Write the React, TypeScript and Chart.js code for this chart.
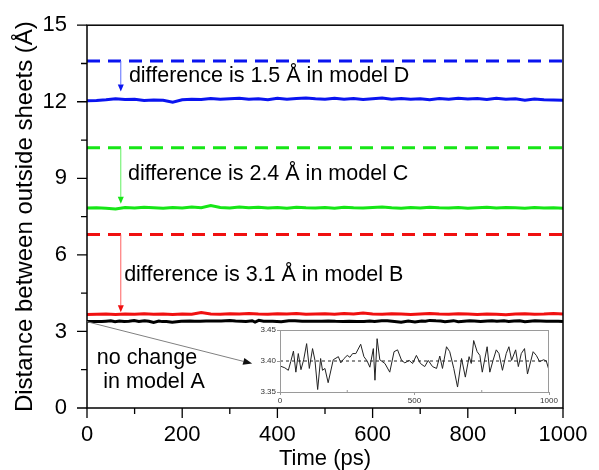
import React, { useEffect, useRef } from "react";
import { Chart, registerables } from "chart.js";

Chart.register(...registerables);

const FONT = "Arial, 'Liberation Sans', Helvetica, sans-serif";

// ---- data ----
const sampleTimes = [
  0, 20, 40, 60, 80, 100, 120, 140, 160, 180, 200, 220, 240, 260, 280, 300, 320, 340, 360, 380,
  400, 420, 440, 460, 480, 500, 520, 540, 560, 580, 600, 620, 640, 660, 680, 700, 720, 740, 760,
  780, 800, 820, 840, 860, 880, 900, 920, 940, 960, 980, 1000,
];
const modelD = [
  12.04, 12.05, 12.08, 12.12, 12.09, 12.1, 12.05, 12.07, 12.06, 11.98, 12.08, 12.1, 12.09, 12.13,
  12.1, 12.12, 12.14, 12.1, 12.12, 12.08, 12.14, 12.1, 12.13, 12.15, 12.12, 12.1, 12.14, 12.1,
  12.13, 12.09, 12.12, 12.15, 12.1, 12.13, 12.1, 12.12, 12.08, 12.13, 12.1, 12.14, 12.11, 12.13,
  12.09, 12.14, 12.1, 12.12, 12.06, 12.11, 12.08, 12.07, 12.06,
];
const modelC = [
  7.84, 7.85, 7.83, 7.8, 7.86, 7.84, 7.87, 7.85, 7.83, 7.86, 7.84, 7.88, 7.85, 7.93, 7.86, 7.84,
  7.88, 7.85, 7.87, 7.84, 7.86, 7.83, 7.87, 7.85, 7.84, 7.86, 7.83, 7.87, 7.85, 7.84, 7.86, 7.88,
  7.85, 7.83, 7.86, 7.84, 7.87, 7.85, 7.84, 7.86, 7.83, 7.85, 7.87, 7.84, 7.86, 7.85, 7.83, 7.86,
  7.84, 7.85, 7.83,
];
const modelB = [
  3.66, 3.67, 3.68, 3.66, 3.68, 3.67, 3.69, 3.67, 3.68, 3.66, 3.68, 3.67, 3.74, 3.68, 3.67, 3.69,
  3.68, 3.7, 3.68, 3.67, 3.69, 3.68, 3.7, 3.67, 3.68, 3.69, 3.67, 3.7, 3.68, 3.72, 3.68, 3.67,
  3.69, 3.68, 3.66, 3.68, 3.7, 3.68, 3.67, 3.69, 3.68, 3.66, 3.68, 3.67, 3.65, 3.68, 3.69, 3.67,
  3.68, 3.7, 3.68,
];
// initial (dashed) spacing for models D, C, B
const initialSpacing = [13.6, 10.2, 6.8];
const finalArrowTips = [12.4, 8.0, 3.75];

const insetTimes = [
  0, 18, 31, 40, 50, 59, 68, 78, 88, 99, 109, 121, 130, 140, 151, 158, 167, 179, 198, 217, 226,
  238, 250, 260, 270, 282, 300, 312, 324, 334, 347, 353, 361, 371, 390, 408, 424, 437, 452, 464,
  480, 493, 507, 522, 538, 551, 567, 582, 594, 604, 619, 631, 646, 660, 675, 689, 703, 711, 720,
  733, 743, 752, 770, 780, 792, 804, 814, 827, 841, 851, 861, 876, 886, 897, 909, 920, 941, 953,
  965, 980, 990, 1000,
];
const modelA = [
  3.392, 3.389, 3.385, 3.399, 3.416, 3.382, 3.412, 3.386, 3.402, 3.428, 3.388, 3.42, 3.401, 3.354,
  3.404, 3.385, 3.388, 3.365, 3.402, 3.407, 3.397, 3.404, 3.409, 3.406, 3.412, 3.412, 3.427, 3.407,
  3.4, 3.39, 3.42, 3.369, 3.436, 3.402, 3.396, 3.382, 3.415, 3.418, 3.401, 3.397, 3.401, 3.396,
  3.409, 3.396, 3.391, 3.401, 3.391, 3.388, 3.408, 3.388, 3.423, 3.415, 3.388, 3.358, 3.404, 3.374,
  3.407, 3.396, 3.433, 3.415, 3.409, 3.382, 3.423, 3.382, 3.401, 3.418, 3.412, 3.385, 3.412, 3.423,
  3.401, 3.418, 3.391, 3.412, 3.42, 3.379, 3.415, 3.409, 3.399, 3.402, 3.4, 3.385,
];
const insetReference = 3.4;
const insetYTicks = [3.35, 3.4, 3.45];
const insetXTicks = [0, 500, 1000];

const xAxisTitle = "Time (ps)";
const yAxisTitle = "Distance between outside sheets (Å)";
const differenceLabels = [
  "difference is 1.5 Å in model D",
  "difference is 2.4 Å in model C",
  "difference is 3.1 Å in model B",
];
const noChangeLabels = ["no change", "in model A"];

const BLUE = "#0a14f0";
const GREEN = "#16e616";
const RED = "#f01010";
const ARROW_COLORS = ["#5a6aff", "#60f060", "#ff6060"];
const LINE_COLORS = [BLUE, GREEN, RED];

function drawArrow(
  ctx: CanvasRenderingContext2D,
  x1: number, y1: number, x2: number, y2: number,
  color: string, headColor: string, width: number, headLen: number, headW: number
) {
  const ang = Math.atan2(y2 - y1, x2 - x1);
  const bx = x2 - headLen * Math.cos(ang);
  const by = y2 - headLen * Math.sin(ang);
  ctx.strokeStyle = color;
  ctx.lineWidth = width;
  ctx.beginPath();
  ctx.moveTo(x1, y1);
  ctx.lineTo(bx, by);
  ctx.stroke();
  ctx.fillStyle = headColor;
  ctx.beginPath();
  ctx.moveTo(x2, y2);
  ctx.lineTo(bx + headW * Math.sin(ang), by - headW * Math.cos(ang));
  ctx.lineTo(bx - headW * Math.sin(ang), by + headW * Math.cos(ang));
  ctx.closePath();
  ctx.fill();
}

const mainDecor = {
  id: "mainDecor",
  afterDatasetsDraw(chart: any) {
    const { ctx, chartArea: a, scales } = chart;
    const x = scales.x;
    const y = scales.y;
    ctx.save();
    // frame
    ctx.strokeStyle = "#000";
    ctx.lineWidth = 1.5;
    ctx.strokeRect(a.left, a.top, a.right - a.left, a.bottom - a.top);
    // tick marks (major + minor)
    ctx.lineWidth = 1.3;
    ctx.beginPath();
    for (let v = 0; v <= 15.001; v += 1.5) {
      const py = y.getPixelForValue(v);
      const len = Math.abs(v % 3) < 0.01 ? 10 : 6;
      ctx.moveTo(a.left - len, py);
      ctx.lineTo(a.left, py);
    }
    for (let t = 0; t <= 1000; t += 100) {
      const px = x.getPixelForValue(t);
      const len = t % 200 === 0 ? 10 : 6;
      ctx.moveTo(px, a.bottom);
      ctx.lineTo(px, a.bottom + len);
    }
    ctx.stroke();

    // difference arrows
    const arrowT = 71;
    initialSpacing.forEach((lvl, i) => {
      drawArrow(
        ctx,
        x.getPixelForValue(arrowT), y.getPixelForValue(lvl),
        x.getPixelForValue(arrowT), y.getPixelForValue(finalArrowTips[i]),
        ARROW_COLORS[i], LINE_COLORS[i], 1, 7, 3
      );
    });

    // labels
    ctx.fillStyle = "#000";
    ctx.font = `21.5px ${FONT}`;
    ctx.textBaseline = "middle";
    ctx.textAlign = "left";
    const labelPos = [
      [88, 12.99],
      [86, 9.16],
      [78, 5.22],
    ];
    differenceLabels.forEach((s, i) => {
      ctx.fillText(s, x.getPixelForValue(labelPos[i][0]), y.getPixelForValue(labelPos[i][1]));
    });
    ctx.textAlign = "center";
    ctx.fillText(noChangeLabels[0], x.getPixelForValue(126), y.getPixelForValue(1.97));
    ctx.fillText(noChangeLabels[1], x.getPixelForValue(141), y.getPixelForValue(1.0));

    // pointer to inset
    drawArrow(
      ctx,
      x.getPixelForValue(0), y.getPixelForValue(3.38),
      x.getPixelForValue(347), y.getPixelForValue(1.74),
      "#808080", "#111", 1, 9, 3.5
    );
    ctx.restore();
  },
};

const insetDecor = {
  id: "insetDecor",
  beforeDraw(chart: any) {
    const { ctx, chartArea: a } = chart;
    ctx.save();
    ctx.fillStyle = "#fff";
    ctx.fillRect(a.left, a.top, a.right - a.left, a.bottom - a.top);
    ctx.restore();
  },
  afterDatasetsDraw(chart: any) {
    const { ctx, chartArea: a, scales } = chart;
    ctx.save();
    ctx.strokeStyle = "#9a9a9a";
    ctx.lineWidth = 1;
    ctx.strokeRect(a.left + 0.5, a.top + 0.5, a.right - a.left - 1, a.bottom - a.top);
    ctx.beginPath();
    [250, 750].forEach((t) => {
      const px = scales.x.getPixelForValue(t);
      ctx.moveTo(px, a.bottom);
      ctx.lineTo(px, a.bottom - 2);
    });
    ctx.stroke();
    ctx.restore();
  },
};

export default function App() {
  const mainRef = useRef<HTMLCanvasElement>(null);
  const insetRef = useRef<HTMLCanvasElement>(null);

  useEffect(() => {
    document.body.style.margin = "0";
    const solid = [modelD, modelC, modelB];
    const datasets: any[] = [];
    initialSpacing.forEach((lvl, i) => {
      datasets.push({
        data: [
          { x: 0, y: lvl },
          { x: 1000, y: lvl },
        ],
        borderColor: LINE_COLORS[i],
        borderWidth: 3,
        borderDash: [13, 8],
        pointRadius: 0,
      });
      datasets.push({
        data: sampleTimes.map((t, k) => ({ x: t, y: solid[i][k] })),
        borderColor: LINE_COLORS[i],
        borderWidth: 3,
        pointRadius: 0,
      });
    });
    datasets.push({
      data: insetTimes.map((t, k) => ({ x: t, y: modelA[k] })),
      borderColor: "#000",
      borderWidth: 3,
      pointRadius: 0,
    });

    const main = new Chart(mainRef.current!, {
      type: "line",
      data: { datasets },
      plugins: [mainDecor],
      options: {
        animation: false,
        responsive: false,
        devicePixelRatio: 1,
        layout: { padding: { top: 20, right: 36, left: 0, bottom: 0 } },
        plugins: { legend: { display: false }, tooltip: { enabled: false } },
        scales: {
          x: {
            type: "linear",
            min: 0,
            max: 1000,
            grid: { display: false },
            border: { display: false },
            ticks: {
              stepSize: 200,
              padding: 6,
              color: "#000",
              font: { size: 22, family: FONT },
              callback: (v: any) => String(v),
            },
            title: {
              display: true,
              text: xAxisTitle,
              color: "#000",
              font: { size: 22, family: FONT },
              padding: { top: 0, bottom: -2 },
            },
            afterFit: (s: any) => {
              s.height = 62;
            },
          },
          y: {
            type: "linear",
            min: 0,
            max: 15,
            grid: { display: false },
            border: { display: false },
            ticks: {
              stepSize: 3,
              padding: 12,
              color: "#000",
              font: { size: 22, family: FONT },
              callback: (v: any) => String(v),
            },
            title: {
              display: true,
              text: yAxisTitle,
              color: "#000",
              font: { size: 24, family: FONT },
              padding: { top: 11, bottom: 0 },
            },
            afterFit: (s: any) => {
              s.width = 87;
            },
          },
        },
      } as any,
    });

    const inset = new Chart(insetRef.current!, {
      type: "line",
      data: {
        datasets: [
          {
            data: insetTimes.map((t, k) => ({ x: t, y: modelA[k] })),
            borderColor: "#222",
            borderWidth: 1,
            pointRadius: 0,
          },
          {
            data: [
              { x: 0, y: insetReference },
              { x: 1000, y: insetReference },
            ],
            borderColor: "#222",
            borderWidth: 1,
            borderDash: [3, 3],
            pointRadius: 0,
          },
        ],
      },
      plugins: [insetDecor],
      options: {
        animation: false,
        responsive: false,
        devicePixelRatio: 1,
        layout: { padding: { top: 8, right: 12, left: 0, bottom: 0 } },
        plugins: { legend: { display: false }, tooltip: { enabled: false } },
        scales: {
          x: {
            type: "linear",
            min: 0,
            max: 1000,
            afterBuildTicks: (s: any) => {
              s.ticks = insetXTicks.map((v) => ({ value: v }));
            },
            grid: { display: true, drawOnChartArea: false, tickLength: 3, color: "#999" },
            border: { display: false },
            ticks: {
              padding: 1,
              color: "#333",
              font: { size: 8, family: FONT },
              maxRotation: 0,
              callback: (v: any) => String(v),
            },
            afterFit: (s: any) => {
              s.height = 15;
            },
          },
          y: {
            type: "linear",
            min: 3.35,
            max: 3.45,
            afterBuildTicks: (s: any) => {
              s.ticks = insetYTicks.map((v) => ({ value: v }));
            },
            grid: { display: true, drawOnChartArea: false, tickLength: 3, color: "#999" },
            border: { display: false },
            ticks: {
              padding: 1,
              color: "#333",
              font: { size: 8, family: FONT },
              callback: (v: any) => Number(v).toFixed(2),
            },
            afterFit: (s: any) => {
              s.width = 24;
            },
          },
        },
      } as any,
    });

    return () => {
      main.destroy();
      inset.destroy();
    };
  }, []);

  return (
    <div style={{ position: "fixed", left: 0, top: 0, width: 599, height: 470, background: "#fff" }}>
      <canvas ref={mainRef} width={599} height={470} style={{ position: "absolute", left: 0, top: 0 }} />
      <canvas
        ref={insetRef}
        width={305}
        height={85}
        style={{ position: "absolute", left: 256, top: 322 }}
      />
    </div>
  );
}
